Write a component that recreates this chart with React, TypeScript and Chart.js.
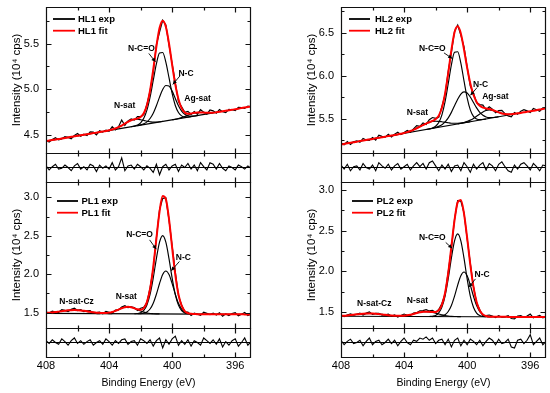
import React, { useEffect, useRef } from "react";
import { Chart, registerables } from "chart.js";

Chart.register(...registerables);

const FONT = "Arial, 'Liberation Sans', Helvetica, sans-serif";
Chart.defaults.font.family = FONT;
Chart.defaults.color = "#000";

const RED = "#ff0000";
const BLACK = "#000000";

// shared binding-energy grid (eV)
const EV = [
  408.0, 407.8, 407.6, 407.4, 407.2, 407.0, 406.8, 406.6, 406.4, 406.2, 406.0,
  405.8, 405.6, 405.4, 405.2, 405.0, 404.8, 404.6, 404.4, 404.2, 404.0, 403.8,
  403.6, 403.4, 403.2, 403.0, 402.8, 402.6, 402.4, 402.2, 402.0, 401.8, 401.6,
  401.4, 401.2, 401.0, 400.8, 400.6, 400.4, 400.2, 400.0, 399.8, 399.6, 399.4,
  399.2, 399.0, 398.8, 398.6, 398.4, 398.2, 398.0, 397.8, 397.6, 397.4, 397.2,
  397.0, 396.8, 396.6, 396.4, 396.2, 396.0, 395.8, 395.6, 395.4, 395.2, 395.0,
];

const X_MIN = 395;
const X_MAX = 408;
const X_MAJOR = [408, 404, 400, 396];
const X_MINOR = [406, 402, 398];
const X_TITLE = "Binding Energy (eV)";
const Y_TITLE = "Intensity (10\u2074 cps)";

// ---------------- HL1 ----------------
const HL1_NAMES = ["HL1 exp", "HL1 fit"];
const HL1_Y_RANGE = [4.3, 5.9];
const HL1_Y_MAJOR = [4.5, 5.0, 5.5];
const HL1_Y_MINOR = [4.75, 5.25, 5.75];
const HL1_EXP = [
  4.440, 4.421, 4.447, 4.468, 4.443, 4.454, 4.480, 4.471, 4.457, 4.493, 4.513,
  4.484, 4.505, 4.491, 4.532, 4.528, 4.498, 4.544, 4.530, 4.551, 4.539, 4.588,
  4.553, 4.588, 4.661, 4.602, 4.652, 4.674, 4.660, 4.699, 4.699, 4.720, 4.834,
  4.981, 5.183, 5.486, 5.624, 5.755, 5.703, 5.485, 5.277, 5.069, 4.865, 4.807,
  4.745, 4.756, 4.723, 4.755, 4.724, 4.775, 4.748, 4.726, 4.771, 4.762, 4.736,
  4.776, 4.752, 4.743, 4.779, 4.774, 4.765, 4.801, 4.797, 4.788, 4.814, 4.805,
];
const HL1_FIT = [
  4.430, 4.436, 4.442, 4.448, 4.453, 4.459, 4.465, 4.471, 4.477, 4.483, 4.488,
  4.494, 4.500, 4.506, 4.512, 4.518, 4.523, 4.529, 4.535, 4.541, 4.549, 4.558,
  4.568, 4.583, 4.601, 4.622, 4.642, 4.659, 4.670, 4.679, 4.694, 4.735, 4.824,
  4.986, 5.213, 5.466, 5.669, 5.750, 5.683, 5.500, 5.267, 5.049, 4.890, 4.792,
  4.745, 4.731, 4.733, 4.740, 4.744, 4.745, 4.743, 4.741, 4.741, 4.742, 4.746,
  4.751, 4.757, 4.763, 4.769, 4.774, 4.780, 4.786, 4.792, 4.798, 4.804, 4.810,
];
const HL1_RES = [
  0.010, -0.015, 0.005, 0.020, -0.010, -0.005, 0.015, 0.000, -0.020, 0.010, 0.025,
  -0.010, 0.005, -0.015, 0.020, 0.010, -0.025, 0.015, -0.005, 0.010, -0.010, 0.030,
  -0.015, 0.005, 0.060, -0.020, 0.010, 0.015, -0.010, 0.020, 0.005, -0.015, 0.010,
  -0.005, -0.030, 0.020, -0.045, 0.005, 0.020, -0.015, 0.010, 0.020, -0.025, 0.015,
  0.000, 0.025, -0.010, 0.015, -0.020, 0.030, 0.005, -0.015, 0.030, 0.020, -0.010,
  0.025, -0.005, -0.020, 0.010, 0.000, -0.015, 0.015, 0.005, -0.010, 0.010, -0.005,
];
const HL1_RES_RANGE = [-0.09, 0.09];
const HL1_BASE_X = [408, 397.4];
const HL1_BASE = [4.43, 4.739];
const HL1_NCO_FROM = 27;
const HL1_NCO = [4.589, 4.595, 4.607, 4.631, 4.680, 4.769, 4.912, 5.095, 5.277, 5.395, 5.401, 5.295, 5.125, 4.953, 4.821, 4.744, 4.707, 4.695, 4.695, 4.699];
const HL1_NC_FROM = 29;
const HL1_NC = [4.600, 4.608, 4.620, 4.641, 4.678, 4.736, 4.818, 4.912, 4.995, 5.040, 5.033, 4.978, 4.897, 4.818, 4.759, 4.724, 4.708, 4.704, 4.706, 4.710];
const HL1_NSAT_FROM = 19;
const HL1_NSAT = [4.541, 4.549, 4.558, 4.568, 4.583, 4.601, 4.622, 4.642, 4.659, 4.668, 4.670, 4.665, 4.657, 4.648, 4.642, 4.638, 4.639, 4.642, 4.646];
const HL1_AGSAT_FROM = 40;
const HL1_AGSAT = [4.664, 4.670, 4.678, 4.688, 4.700, 4.714, 4.728, 4.738, 4.744, 4.745, 4.743, 4.741, 4.741, 4.742, 4.746, 4.751];

// ---------------- HL2 ----------------
const HL2_NAMES = ["HL2 exp", "HL2 fit"];
const HL2_Y_RANGE = [5.1, 6.8];
const HL2_Y_MAJOR = [5.5, 6.0, 6.5];
const HL2_Y_MINOR = [5.25, 5.75, 6.25, 6.75];
const HL2_EXP = [
  5.215, 5.196, 5.233, 5.199, 5.231, 5.242, 5.224, 5.270, 5.252, 5.248, 5.279,
  5.251, 5.307, 5.294, 5.285, 5.317, 5.288, 5.319, 5.341, 5.314, 5.338, 5.363,
  5.341, 5.380, 5.418, 5.411, 5.450, 5.433, 5.488, 5.513, 5.503, 5.515, 5.641,
  5.781, 6.050, 6.272, 6.516, 6.590, 6.472, 6.335, 6.099, 5.879, 5.798, 5.685,
  5.664, 5.658, 5.604, 5.637, 5.611, 5.568, 5.593, 5.596, 5.559, 5.531, 5.522,
  5.571, 5.552, 5.587, 5.604, 5.590, 5.571, 5.618, 5.604, 5.586, 5.627, 5.629,
];
const HL2_FIT = [
  5.200, 5.206, 5.213, 5.219, 5.226, 5.232, 5.239, 5.245, 5.252, 5.258, 5.264,
  5.271, 5.277, 5.284, 5.290, 5.297, 5.303, 5.309, 5.316, 5.324, 5.333, 5.343,
  5.356, 5.370, 5.388, 5.406, 5.425, 5.443, 5.458, 5.473, 5.493, 5.535, 5.626,
  5.791, 6.030, 6.297, 6.506, 6.575, 6.492, 6.305, 6.094, 5.909, 5.778, 5.695,
  5.649, 5.628, 5.619, 5.612, 5.601, 5.588, 5.573, 5.561, 5.554, 5.551, 5.552,
  5.556, 5.562, 5.567, 5.574, 5.580, 5.586, 5.593, 5.599, 5.606, 5.612, 5.619,
];
const HL2_RES = [
  0.015, -0.010, 0.020, -0.020, 0.005, 0.010, -0.015, 0.025, 0.000, -0.010, 0.015,
  -0.020, 0.030, 0.010, -0.005, 0.020, -0.015, 0.010, 0.025, -0.010, 0.005, 0.020,
  -0.015, 0.010, 0.030, 0.005, 0.025, -0.010, 0.030, 0.040, 0.010, -0.020, 0.015,
  -0.010, 0.020, -0.025, 0.010, 0.015, -0.020, 0.030, 0.005, -0.030, 0.020, -0.010,
  0.015, 0.030, -0.015, 0.025, 0.010, -0.020, 0.020, 0.035, 0.005, -0.020, -0.030,
  0.015, -0.010, 0.020, 0.030, 0.010, -0.015, 0.025, 0.005, -0.020, 0.015, 0.010,
];
const HL2_RES_RANGE = [-0.09, 0.09];
const HL2_BASE_X = [408, 397.0];
const HL2_BASE = [5.2, 5.554];
const HL2_NCO_FROM = 27;
const HL2_NCO = [5.374, 5.381, 5.392, 5.412, 5.456, 5.544, 5.697, 5.907, 6.127, 6.273, 6.279, 6.147, 5.939, 5.742, 5.602, 5.526, 5.496, 5.488, 5.491, 5.496];
const HL2_NC_FROM = 28;
const HL2_NC = [5.380, 5.388, 5.397, 5.410, 5.430, 5.462, 5.509, 5.573, 5.651, 5.726, 5.786, 5.811, 5.799, 5.752, 5.689, 5.625, 5.573, 5.539, 5.520, 5.513, 5.513, 5.517, 5.522];
const HL2_NSAT_FROM = 17;
const HL2_NSAT = [5.309, 5.317, 5.324, 5.333, 5.343, 5.356, 5.370, 5.388, 5.406, 5.425, 5.443, 5.457, 5.467, 5.470, 5.469, 5.464, 5.458, 5.452, 5.447, 5.446, 5.446, 5.449, 5.453, 5.459, 5.464];
const HL2_AGSAT_FROM = 37;
const HL2_AGSAT = [5.439, 5.447, 5.455, 5.468, 5.483, 5.503, 5.528, 5.554, 5.578, 5.595, 5.602, 5.597, 5.587, 5.573, 5.561, 5.554, 5.551, 5.552, 5.556, 5.562];

// ---------------- PL1 ----------------
const PL1_NAMES = ["PL1 exp", "PL1 fit"];
const PL1_Y_RANGE = [1.3, 3.2];
const PL1_Y_MAJOR = [1.5, 2.0, 2.5, 3.0];
const PL1_Y_MINOR = [1.75, 2.25, 2.75];
const PL1_EXP = [
  1.506, 1.494, 1.518, 1.507, 1.503, 1.539, 1.530, 1.515, 1.542, 1.558, 1.527,
  1.539, 1.514, 1.522, 1.526, 1.490, 1.500, 1.507, 1.485, 1.516, 1.505, 1.494,
  1.533, 1.535, 1.572, 1.590, 1.565, 1.575, 1.567, 1.529, 1.557, 1.569, 1.632,
  1.822, 2.072, 2.471, 2.839, 2.987, 2.992, 2.707, 2.365, 2.027, 1.722, 1.600,
  1.510, 1.508, 1.464, 1.492, 1.480, 1.465, 1.505, 1.490, 1.475, 1.494, 1.469,
  1.499, 1.454, 1.484, 1.463, 1.488, 1.498, 1.458, 1.478, 1.502, 1.462, 1.482,
];
const PL1_FIT = [
  1.496, 1.499, 1.503, 1.507, 1.513, 1.519, 1.525, 1.530, 1.532, 1.533, 1.532,
  1.529, 1.524, 1.517, 1.511, 1.505, 1.500, 1.497, 1.495, 1.496, 1.500, 1.509,
  1.523, 1.540, 1.557, 1.570, 1.575, 1.570, 1.557, 1.544, 1.537, 1.559, 1.637,
  1.807, 2.092, 2.461, 2.814, 3.017, 2.977, 2.717, 2.345, 1.992, 1.737, 1.590,
  1.520, 1.493, 1.484, 1.482, 1.480, 1.480, 1.480, 1.480, 1.480, 1.479, 1.479,
  1.479, 1.479, 1.479, 1.478, 1.478, 1.478, 1.478, 1.478, 1.477, 1.477, 1.477,
];
const PL1_RES = [
  0.010, -0.005, 0.015, 0.000, -0.010, 0.020, 0.005, -0.015, 0.010, 0.025, -0.005,
  0.010, -0.010, 0.005, 0.015, -0.015, 0.000, 0.010, -0.010, 0.020, 0.005, -0.015,
  0.010, -0.005, 0.015, 0.020, -0.010, 0.005, 0.010, -0.015, 0.020, 0.010, -0.005,
  0.015, -0.020, 0.010, 0.025, -0.030, 0.015, -0.010, 0.020, 0.035, -0.015, 0.010,
  -0.010, 0.015, -0.020, 0.010, 0.000, -0.015, 0.025, 0.010, -0.005, 0.015, -0.010,
  0.020, -0.025, 0.005, -0.015, 0.010, 0.020, -0.020, 0.000, 0.025, -0.015, 0.005,
];
const PL1_RES_RANGE = [-0.08, 0.08];
const PL1_BASE_X = [408, 395];
const PL1_BASE = [1.49, 1.477];
const PL1_NCO_FROM = 28;
const PL1_NCO = [1.485, 1.488, 1.498, 1.529, 1.600, 1.737, 1.950, 2.204, 2.418, 2.503, 2.417, 2.203, 1.949, 1.736, 1.598, 1.526, 1.495, 1.485, 1.482];
const PL1_NC_FROM = 29;
const PL1_NC = [1.485, 1.486, 1.492, 1.509, 1.547, 1.622, 1.739, 1.879, 1.997, 2.042, 1.996, 1.878, 1.738, 1.621, 1.545, 1.506, 1.489, 1.483, 1.482];
const PL1_NSAT_FROM = 16;
const PL1_NSAT = [1.487, 1.488, 1.489, 1.492, 1.498, 1.508, 1.523, 1.540, 1.557, 1.570, 1.575, 1.570, 1.556, 1.539, 1.521, 1.506, 1.496, 1.489, 1.486, 1.484, 1.483];
const PL1_CZ_FROM = 0;
const PL1_CZ = [1.496, 1.499, 1.503, 1.507, 1.513, 1.519, 1.525, 1.530, 1.532, 1.533, 1.532, 1.529, 1.524, 1.517, 1.511, 1.505, 1.500, 1.496, 1.492, 1.490, 1.488, 1.487];

// ---------------- PL2 ----------------
const PL2_NAMES = ["PL2 exp", "PL2 fit"];
const PL2_Y_RANGE = [1.3, 3.1];
const PL2_Y_MAJOR = [1.5, 2.0, 2.5, 3.0];
const PL2_Y_MINOR = [1.75, 2.25, 2.75];
const PL2_EXP = [
  1.460, 1.442, 1.460, 1.474, 1.459, 1.469, 1.483, 1.461, 1.483, 1.499, 1.468,
  1.481, 1.482, 1.458, 1.462, 1.472, 1.448, 1.461, 1.435, 1.455, 1.472, 1.457,
  1.454, 1.483, 1.489, 1.513, 1.515, 1.526, 1.510, 1.516, 1.493, 1.529, 1.602,
  1.722, 1.993, 2.282, 2.639, 2.870, 2.864, 2.721, 2.400, 2.097, 1.812, 1.611,
  1.526, 1.452, 1.453, 1.460, 1.448, 1.428, 1.453, 1.433, 1.438, 1.452, 1.417,
  1.412, 1.447, 1.452, 1.432, 1.447, 1.471, 1.426, 1.441, 1.456, 1.426, 1.441,
];
const PL2_FIT = [
  1.450, 1.452, 1.455, 1.459, 1.464, 1.469, 1.473, 1.476, 1.478, 1.479, 1.478,
  1.476, 1.472, 1.468, 1.462, 1.457, 1.453, 1.451, 1.450, 1.450, 1.452, 1.457,
  1.464, 1.473, 1.484, 1.493, 1.500, 1.501, 1.500, 1.496, 1.498, 1.519, 1.587,
  1.732, 1.978, 2.302, 2.629, 2.850, 2.879, 2.711, 2.410, 2.082, 1.807, 1.621,
  1.516, 1.467, 1.448, 1.440, 1.438, 1.438, 1.438, 1.438, 1.438, 1.437, 1.437,
  1.437, 1.437, 1.437, 1.437, 1.437, 1.436, 1.436, 1.436, 1.436, 1.436, 1.436,
];
const PL2_RES = [
  0.010, -0.010, 0.005, 0.015, -0.005, 0.000, 0.010, -0.015, 0.005, 0.020, -0.010,
  0.005, 0.010, -0.010, 0.000, 0.015, -0.005, 0.010, -0.015, 0.005, 0.020, 0.000,
  -0.010, 0.010, 0.005, 0.020, 0.015, 0.025, 0.010, 0.020, -0.005, 0.010, 0.015,
  -0.010, 0.015, -0.020, 0.010, 0.020, -0.015, 0.010, -0.010, 0.015, 0.005, -0.010,
  0.010, -0.015, 0.005, 0.020, 0.010, -0.010, 0.015, -0.005, 0.000, 0.015, -0.020,
  -0.025, 0.010, 0.015, -0.005, 0.010, 0.035, -0.010, 0.005, 0.020, -0.010, 0.005,
];
const PL2_RES_RANGE = [-0.065, 0.065];
const PL2_BASE_X = [408, 395];
const PL2_BASE = [1.445, 1.436];
const PL2_NCO_FROM = 28;
const PL2_NCO = [1.442, 1.445, 1.455, 1.486, 1.557, 1.694, 1.907, 2.161, 2.375, 2.460, 2.375, 2.161, 1.906, 1.693, 1.555, 1.484, 1.453, 1.443, 1.440];
const PL2_NC_FROM = 29;
const PL2_NC = [1.441, 1.442, 1.443, 1.449, 1.464, 1.503, 1.577, 1.692, 1.829, 1.944, 1.990, 1.943, 1.828, 1.691, 1.576, 1.502, 1.463, 1.447, 1.440, 1.439];
const PL2_NSAT_FROM = 16;
const PL2_NSAT = [1.443, 1.444, 1.445, 1.447, 1.450, 1.456, 1.464, 1.473, 1.484, 1.493, 1.500, 1.501, 1.499, 1.492, 1.483, 1.472, 1.463, 1.454, 1.448, 1.444, 1.442, 1.441, 1.440];
const PL2_CZ_FROM = 0;
const PL2_CZ = [1.450, 1.452, 1.455, 1.459, 1.464, 1.469, 1.473, 1.476, 1.478, 1.479, 1.478, 1.476, 1.472, 1.468, 1.462, 1.457, 1.453, 1.450, 1.448, 1.446, 1.444, 1.443];

// ---------------- annotation text (data coordinates) ----------------
type Label = { text: string; x: number; y: number; arrow?: number[] };
const HL1_LABELS: Label[] = [
  { text: "N-C=O", x: 401.95, y: 5.445, arrow: [401.48, 5.391, 401.06, 5.299] },
  { text: "N-C", x: 399.12, y: 5.172, arrow: [399.5, 5.146, 399.96, 5.052] },
  { text: "N-sat", x: 403.01, y: 4.816 },
  { text: "Ag-sat", x: 398.39, y: 4.892 },
];
const HL2_LABELS: Label[] = [
  { text: "N-C=O", x: 402.21, y: 6.318, arrow: [401.47, 6.266, 400.95, 6.201] },
  { text: "N-C", x: 399.15, y: 5.897, arrow: [399.37, 5.862, 399.79, 5.772] },
  { text: "N-sat", x: 403.15, y: 5.57 },
  { text: "Ag-sat", x: 398.21, y: 5.752 },
];
const PL1_LABELS: Label[] = [
  { text: "N-C=O", x: 402.07, y: 2.512, arrow: [401.43, 2.447, 401.01, 2.326] },
  { text: "N-C", x: 399.29, y: 2.218, arrow: [399.54, 2.166, 400.06, 2.045] },
  { text: "N-sat", x: 402.91, y: 1.705 },
  { text: "N-sat-Cz", x: 406.06, y: 1.64 },
];
const PL2_LABELS: Label[] = [
  { text: "N-C=O", x: 402.21, y: 2.417, arrow: [401.36, 2.355, 400.95, 2.282] },
  { text: "N-C", x: 399.05, y: 1.955, arrow: [399.47, 1.906, 399.89, 1.804] },
  { text: "N-sat", x: 403.15, y: 1.64 },
  { text: "N-sat-Cz", x: 405.89, y: 1.6 },
];

// ---------------- layout ----------------
type LegendGeom = { x0: number; x1: number; tx: number; y0: number; dy: number };
type Panel = {
  l: number; r: number; t: number; b: number; rb: number;
  names: string[]; yRange: number[]; yMajor: number[]; yMinor: number[];
  exp: number[]; fit: number[]; res: number[]; resRange: number[];
  baseX: number[]; base: number[]; comps: [number, number[]][];
  labels: Label[]; legend: LegendGeom; showX: boolean;
};

const LEG_HL: LegendGeom = { x0: 7, x1: 29, tx: 32, y0: 12, dy: 11.7 };
const LEG_PL: LegendGeom = { x0: 11, x1: 32, tx: 35.5, y0: 19, dy: 11.7 };

const PANELS: Panel[] = [
  {
    l: 46, r: 251, t: 7, b: 153, rb: 182, names: HL1_NAMES, yRange: HL1_Y_RANGE,
    yMajor: HL1_Y_MAJOR, yMinor: HL1_Y_MINOR, exp: HL1_EXP, fit: HL1_FIT, res: HL1_RES,
    resRange: HL1_RES_RANGE, baseX: HL1_BASE_X, base: HL1_BASE,
    comps: [[HL1_NCO_FROM, HL1_NCO], [HL1_NC_FROM, HL1_NC], [HL1_NSAT_FROM, HL1_NSAT], [HL1_AGSAT_FROM, HL1_AGSAT]],
    labels: HL1_LABELS, legend: LEG_HL, showX: false,
  },
  {
    l: 341, r: 546, t: 7, b: 153, rb: 182, names: HL2_NAMES, yRange: HL2_Y_RANGE,
    yMajor: HL2_Y_MAJOR, yMinor: HL2_Y_MINOR, exp: HL2_EXP, fit: HL2_FIT, res: HL2_RES,
    resRange: HL2_RES_RANGE, baseX: HL2_BASE_X, base: HL2_BASE,
    comps: [[HL2_NCO_FROM, HL2_NCO], [HL2_NC_FROM, HL2_NC], [HL2_NSAT_FROM, HL2_NSAT], [HL2_AGSAT_FROM, HL2_AGSAT]],
    labels: HL2_LABELS, legend: { ...LEG_HL, x0: 8, tx: 34 }, showX: false,
  },
  {
    l: 46, r: 251, t: 182, b: 328, rb: 357, names: PL1_NAMES, yRange: PL1_Y_RANGE,
    yMajor: PL1_Y_MAJOR, yMinor: PL1_Y_MINOR, exp: PL1_EXP, fit: PL1_FIT, res: PL1_RES,
    resRange: PL1_RES_RANGE, baseX: PL1_BASE_X, base: PL1_BASE,
    comps: [[PL1_NCO_FROM, PL1_NCO], [PL1_NC_FROM, PL1_NC], [PL1_NSAT_FROM, PL1_NSAT], [PL1_CZ_FROM, PL1_CZ]],
    labels: PL1_LABELS, legend: LEG_PL, showX: true,
  },
  {
    l: 341, r: 546, t: 182, b: 328, rb: 357, names: PL2_NAMES, yRange: PL2_Y_RANGE,
    yMajor: PL2_Y_MAJOR, yMinor: PL2_Y_MINOR, exp: PL2_EXP, fit: PL2_FIT, res: PL2_RES,
    resRange: PL2_RES_RANGE, baseX: PL2_BASE_X, base: PL2_BASE,
    comps: [[PL2_NCO_FROM, PL2_NCO], [PL2_NC_FROM, PL2_NC], [PL2_NSAT_FROM, PL2_NSAT], [PL2_CZ_FROM, PL2_CZ]],
    labels: PL2_LABELS, legend: LEG_PL, showX: true,
  },
];

const W = 550;
const H = 393;
const Y_AXIS_W = 46;

const zip = (xs: number[], ys: number[]) => ys.map((y, i) => ({ x: xs[i], y }));

type DecorCfg = { yMajor?: number[]; yMinor?: number[]; names?: string[]; legend?: LegendGeom; labels?: Label[] };

function makeDecor(cfg: DecorCfg) {
  return {
    id: "decor",
    afterDatasetsDraw(chart: any) {
      const { ctx, chartArea: a, scales } = chart;
      const sx = scales.x;
      const sy = scales.y;
      const L = Math.round(a.left) + 0.5;
      const R = Math.round(a.right) - 0.5;
      const T = Math.round(a.top) + 0.5;
      const B = Math.round(a.bottom) + 0.5;
      ctx.save();
      ctx.strokeStyle = "#111";
      ctx.lineWidth = 1.2;
      ctx.beginPath();
      ctx.rect(L, T, R - L, B - T);
      const seg = (x1: number, y1: number, x2: number, y2: number) => {
        ctx.moveTo(x1, y1);
        ctx.lineTo(x2, y2);
      };
      X_MAJOR.forEach((v) => {
        const px = Math.round(sx.getPixelForValue(v)) + 0.5;
        seg(px, T, px, T + 5);
        seg(px, B, px, B - 5);
      });
      X_MINOR.forEach((v) => {
        const px = Math.round(sx.getPixelForValue(v)) + 0.5;
        seg(px, T, px, T + 3);
        seg(px, B, px, B - 3);
      });
      (cfg.yMajor || []).forEach((v) => {
        const py = Math.round(sy.getPixelForValue(v)) + 0.5;
        seg(L, py, L + 5, py);
        seg(R, py, R - 5, py);
      });
      (cfg.yMinor || []).forEach((v) => {
        const py = Math.round(sy.getPixelForValue(v)) + 0.5;
        if (py > T + 1 && py < B - 1) {
          seg(L, py, L + 3, py);
          seg(R, py, R - 3, py);
        }
      });
      ctx.stroke();

      if (cfg.names && cfg.legend) {
        const g = cfg.legend;
        cfg.names.forEach((name, i) => {
          const y = a.top + g.y0 + i * g.dy;
          ctx.strokeStyle = i === 0 ? BLACK : RED;
          ctx.lineWidth = 1.8;
          ctx.beginPath();
          ctx.moveTo(a.left + g.x0, y);
          ctx.lineTo(a.left + g.x1, y);
          ctx.stroke();
          ctx.fillStyle = BLACK;
          ctx.font = `bold 9.5px ${FONT}`;
          ctx.textAlign = "left";
          ctx.textBaseline = "middle";
          ctx.fillText(name, a.left + g.tx, y + 0.5);
        });
      }

      (cfg.labels || []).forEach((lb) => {
        ctx.fillStyle = BLACK;
        ctx.font = `bold 8.5px ${FONT}`;
        ctx.textAlign = "center";
        ctx.textBaseline = "middle";
        ctx.fillText(lb.text, sx.getPixelForValue(lb.x), sy.getPixelForValue(lb.y));
        if (lb.arrow) {
          const [x1, y1, x2, y2] = lb.arrow;
          const p1x = sx.getPixelForValue(x1);
          const p1y = sy.getPixelForValue(y1);
          const p2x = sx.getPixelForValue(x2);
          const p2y = sy.getPixelForValue(y2);
          ctx.strokeStyle = BLACK;
          ctx.lineWidth = 0.9;
          ctx.beginPath();
          ctx.moveTo(p1x, p1y);
          ctx.lineTo(p2x, p2y);
          ctx.stroke();
          const ang = Math.atan2(p2y - p1y, p2x - p1x);
          const len = 4;
          const wid = 2;
          const bx = p2x - len * Math.cos(ang);
          const by = p2y - len * Math.sin(ang);
          ctx.beginPath();
          ctx.moveTo(p2x, p2y);
          ctx.lineTo(bx - wid * Math.sin(ang), by + wid * Math.cos(ang));
          ctx.lineTo(bx + wid * Math.sin(ang), by - wid * Math.cos(ang));
          ctx.closePath();
          ctx.fill();
        }
      });
      ctx.restore();
    },
  };
}

const zeroPad = (s: any) => {
  s.paddingTop = 0;
  s.paddingBottom = 0;
  s.paddingLeft = 0;
  s.paddingRight = 0;
};

function mainConfig(p: Panel): any {
  const datasets: any[] = [
    { data: zip(EV, p.fit), borderColor: RED, borderWidth: 2, cubicInterpolationMode: "monotone" },
    { data: zip(EV, p.exp), borderColor: BLACK, borderWidth: 1.2 },
    ...p.comps.map(([from, vals]) => ({
      data: zip(EV.slice(from, from + vals.length), vals),
      borderColor: BLACK,
      borderWidth: 1.15,
      cubicInterpolationMode: "monotone",
    })),
    { data: zip(p.baseX, p.base), borderColor: BLACK, borderWidth: 1.15 },
  ];
  return {
    type: "line",
    data: { datasets },
    options: {
      responsive: false,
      animation: false,
      devicePixelRatio: 1,
      events: [],
      elements: { point: { radius: 0, hoverRadius: 0 }, line: { fill: false, tension: 0 } },
      layout: { autoPadding: false, padding: { left: p.l - Y_AXIS_W, top: p.t, right: W - p.r, bottom: H - p.b } },
      plugins: { legend: { display: false }, tooltip: { enabled: false } },
      scales: {
        x: { type: "linear", min: X_MIN, max: X_MAX, reverse: true, display: false },
        y: {
          type: "linear",
          position: "left",
          min: p.yRange[0],
          max: p.yRange[1],
          afterBuildTicks: (s: any) => {
            s.ticks = p.yMajor.map((v) => ({ value: v }));
          },
          afterFit: (s: any) => {
            s.width = Y_AXIS_W;
            zeroPad(s);
          },
          grid: { display: false, drawTicks: false },
          border: { display: false },
          ticks: {
            color: BLACK,
            padding: 7,
            font: { size: 11 },
            callback: (v: any) => Number(v).toFixed(1),
          },
          title: {
            display: true,
            text: Y_TITLE,
            color: BLACK,
            font: { size: 11.5 },
            padding: { top: 9.5, bottom: 0 },
          },
        },
      },
    },
    plugins: [makeDecor({ yMajor: p.yMajor, yMinor: p.yMinor, names: p.names, legend: p.legend, labels: p.labels })],
  };
}

function resConfig(p: Panel): any {
  const datasets: any[] = [
    { data: zip(EV, p.res), borderColor: BLACK, borderWidth: 1.1 },
    { data: zip([X_MAX, X_MIN], [0, 0]), borderColor: BLACK, borderWidth: 1 },
  ];
  const xAxisH = H - p.rb;
  return {
    type: "line",
    data: { datasets },
    options: {
      responsive: false,
      animation: false,
      devicePixelRatio: 1,
      events: [],
      elements: { point: { radius: 0, hoverRadius: 0 }, line: { fill: false, tension: 0 } },
      layout: {
        autoPadding: false,
        padding: { left: p.l, top: p.b, right: W - p.r, bottom: p.showX ? 0 : H - p.rb },
      },
      plugins: { legend: { display: false }, tooltip: { enabled: false } },
      scales: {
        x: {
          type: "linear",
          position: "bottom",
          min: X_MIN,
          max: X_MAX,
          reverse: true,
          display: p.showX,
          afterBuildTicks: (s: any) => {
            s.ticks = X_MAJOR.map((v) => ({ value: v }));
          },
          afterFit: (s: any) => {
            if (p.showX) s.height = xAxisH;
            zeroPad(s);
          },
          grid: { display: false, drawTicks: false },
          border: { display: false },
          ticks: { color: BLACK, padding: 2.5, font: { size: 11 }, maxRotation: 0, autoSkip: false, callback: (v: any) => String(v) },
          title: { display: true, text: X_TITLE, color: BLACK, font: { size: 10.5 }, padding: { top: 0, bottom: 3.8 } },
        },
        y: { type: "linear", min: p.resRange[0], max: p.resRange[1], display: false },
      },
    },
    plugins: [makeDecor({})],
  };
}

function ChartCanvas({ make }: { make: () => any }) {
  const ref = useRef<HTMLCanvasElement>(null);
  useEffect(() => {
    const chart = new Chart(ref.current as HTMLCanvasElement, make());
    return () => chart.destroy();
  }, []);
  return (
    <canvas
      ref={ref}
      width={W}
      height={H}
      style={{ position: "absolute", left: 0, top: 0, width: W, height: H }}
    />
  );
}

const MAKERS: (() => any)[] = PANELS.flatMap((p) => [() => mainConfig(p), () => resConfig(p)]);

export default function App() {
  return (
    <div style={{ position: "absolute", left: 0, top: 0, width: W, height: H, background: "#ffffff", overflow: "hidden" }}>
      {MAKERS.map((m, i) => (
        <ChartCanvas key={i} make={m} />
      ))}
    </div>
  );
}
